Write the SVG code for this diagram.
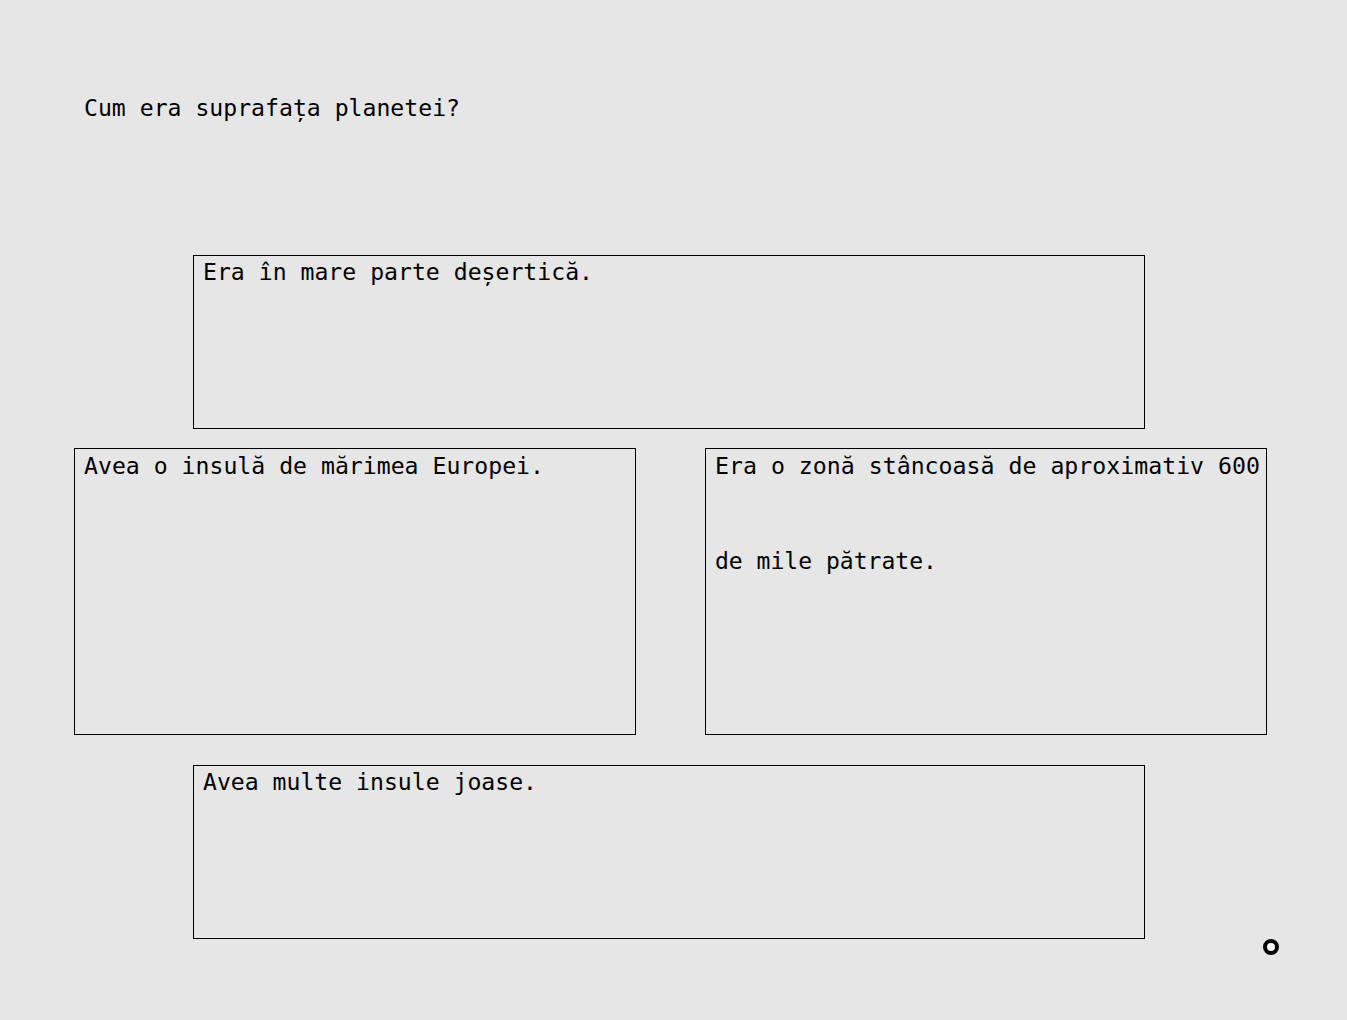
<svg xmlns="http://www.w3.org/2000/svg" width="1347" height="1020" viewBox="0 0 1347 1020">
<style>
.bg{fill:#e6e6e6}
.box{fill:#e6e6e6;stroke:#000;stroke-width:1}
.t{font-family:"DejaVu Sans Mono","Liberation Mono",monospace;font-size:23px;fill:#000}
</style>
<rect class="bg" x="0" y="0" width="1347" height="1020"/>
<text class="t" x="84" y="116" textLength="376" lengthAdjust="spacingAndGlyphs">Cum era suprafața planetei?</text>
<g id="node1">
<rect class="box" x="193.5" y="255.5" width="951" height="173"/>
<text class="t" x="203" y="280" textLength="390" lengthAdjust="spacingAndGlyphs">Era în mare parte deșertică.</text>
</g>
<g id="node2">
<rect class="box" x="74.5" y="448.5" width="561" height="286"/>
<text class="t" x="84" y="474" textLength="460" lengthAdjust="spacingAndGlyphs">Avea o insulă de mărimea Europei.</text>
</g>
<g id="node3">
<rect class="box" x="705.5" y="448.5" width="561" height="286"/>
<text class="t" x="715" y="474" textLength="545" lengthAdjust="spacingAndGlyphs">Era o zonă stâncoasă de aproximativ 600</text>
<text class="t" x="715" y="569" textLength="222" lengthAdjust="spacingAndGlyphs">de mile pătrate.</text>
</g>
<g id="node4">
<rect class="box" x="193.5" y="765.5" width="951" height="173"/>
<text class="t" x="203" y="790" textLength="334" lengthAdjust="spacingAndGlyphs">Avea multe insule joase.</text>
</g>
<g id="connectors"></g>
<circle cx="1271" cy="947" r="6" fill="#fff" stroke="#000" stroke-width="4"/>
</svg>
